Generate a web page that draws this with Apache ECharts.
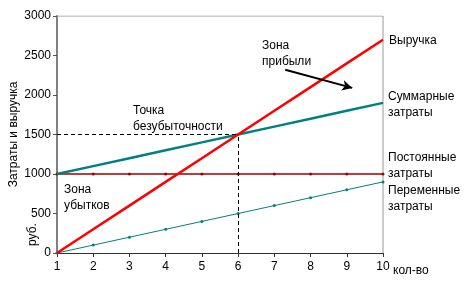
<!DOCTYPE html>
<html><head><meta charset="utf-8">
<script src="https://cdn.jsdelivr.net/npm/echarts@6/dist/echarts.min.js"></script>
<style>html,body{margin:0;padding:0;background:#fff}#c{width:475px;height:287px}</style>
</head><body><div id="c"></div>
<script>
const qty = [1,2,3,4,5,6,7,8,9,10];
const revenue = [0,300,600,900,1200,1500,1800,2100,2400,2700];
const totalCost = [1000,1100,1200,1300,1400,1500,1600,1700,1800,1900];
const fixedCost = [1000,1000,1000,1000,1000,1000,1000,1000,1000,1000];
const variableCost = [0,100,200,300,400,500,600,700,800,900];
const breakEven = [6,1500];
const arrowFrom = [7.3,2320];
const arrowTo = [9.15,2090];
const yTicks = [0,500,1000,1500,2000,2500,3000];

const F = 'Liberation Sans, Arial, sans-serif';
const pair = a => qty.map((x,i)=>[x,a[i]]);
const chart = echarts.init(document.getElementById('c'));
const txt = (left, top, text, extra) => Object.assign({type:'text', left, top, style:{text, font:'12px '+F, fill:'#000', lineHeight:16}}, extra||{});
chart.setOption({
  animation:false,
  grid:{left:57,right:92,top:16,bottom:34,containLabel:false,outerBoundsMode:'none'},
  xAxis:{type:'value',min:1,max:10,interval:1,
    axisLine:{lineStyle:{color:'#333',width:1}},
    axisTick:{show:true,length:4,lineStyle:{color:'#333'}},
    axisLabel:{color:'#000',fontFamily:F,fontSize:12,margin:8},
    splitLine:{show:false}},
  yAxis:{type:'value',min:0,max:3000,interval:500,
    name:'Затраты и выручка',nameLocation:'middle',nameGap:37,nameRotate:90,nameMoveOverlap:false,
    nameTextStyle:{color:'#000',fontFamily:F,fontSize:12},
    axisLine:{show:true,lineStyle:{color:'#808080',width:2}},
    axisTick:{show:true,length:4,lineStyle:{color:'#555'}},
    axisLabel:{color:'#000',fontFamily:F,fontSize:12,margin:6,
      formatter:v=>yTicks.includes(v)?String(v):''},
    splitLine:{show:false}},
  series:[
    {type:'line',data:pair(fixedCost),symbol:'circle',symbolSize:3,showSymbol:true,
      itemStyle:{color:'#a00000'},lineStyle:{color:'#a00000',width:1.5},z:2},
    {type:'line',data:pair(variableCost),symbol:'circle',symbolSize:3,showSymbol:true,
      itemStyle:{color:'#008080'},lineStyle:{color:'#008080',width:1},z:2,
      markLine:{silent:true,symbol:'none',label:{show:false},
        lineStyle:{color:'#000',type:[4,3],width:1},
        data:[[{coord:[1,breakEven[1]]},{coord:breakEven}],[{coord:[breakEven[0],0]},{coord:breakEven}]]}},
    {type:'line',data:pair(totalCost),symbol:'none',lineStyle:{color:'#008080',width:2.5},z:3},
    {type:'line',data:pair(revenue),symbol:'none',lineStyle:{color:'#ff0000',width:2.5},z:4,
      markLine:{silent:true,symbol:['none','arrow'],symbolSize:[8,10],label:{show:false},
        lineStyle:{color:'#000',type:'solid',width:2},
        data:[[{coord:arrowFrom},{coord:arrowTo}]]}},
    {type:'line',data:[[1,3000],[10,3000],[10,0]],symbol:'none',lineStyle:{color:'#999',width:1},z:1,silent:true}
  ],
  graphic:[
    txt(389,33,'Выручка'),
    txt(388,89,'Суммарные\nзатраты'),
    txt(388,150,'Постоянные\nзатраты'),
    txt(388,183,'Переменные\nзатраты'),
    txt(262,38,'Зона\nприбыли'),
    txt(133,103,'Точка\nбезубыточности'),
    txt(64,182,'Зона\nубытков'),
    txt(393,263,'кол-во'),
    {type:'text',x:27,y:246,rotation:Math.PI/2,style:{text:'руб.',font:'12px '+F,fill:'#000'}}
  ]
});
</script></body></html>
